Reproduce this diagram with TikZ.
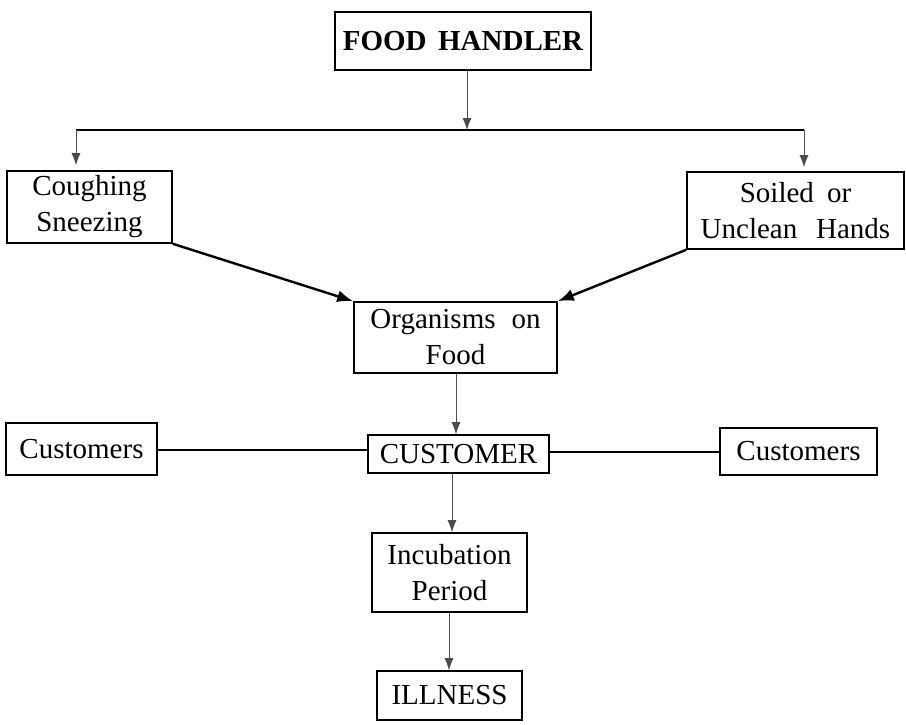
\documentclass[tikz,border=0pt]{standalone}
\usepackage{fontspec}
\setmainfont{Liberation Serif}
\usetikzlibrary{arrows.meta}
\begin{document}
\begin{tikzpicture}[x=1pt,y=-1pt,
  box/.style={draw,line width=1.6pt,inner sep=0pt,align=center,
    font=\fontsize{29}{36}\selectfont},
  thinarrow/.style={draw=black!70,line width=0.8pt,-{Latex[length=12pt,width=9pt]}},
  thickline/.style={line width=2pt},
  thickarrow/.style={line width=2.4pt,-{Latex[length=16pt,width=12pt]}}]
\useasboundingbox (0,0) rectangle (906,724);
\node[box,minimum width=256pt,minimum height=58pt,font=\fontsize{29}{34}\selectfont\bfseries] (fh) at (463,41) {FOOD\hspace{0.15em} HANDLER};
\node[box,minimum width=165pt,minimum height=72pt] (cough) at (89.5,207) {Coughing\\Sneezing};
\node[box,minimum width=217pt,minimum height=77pt] (soiled) at (795.5,210.5) {Soiled\hspace{0.2em} or\\Unclean\hspace{0.4em} Hands};
\node[box,minimum width=203pt,minimum height=71pt] (org) at (455.5,337.5) {Organisms\hspace{0.3em} on\\Food};
\node[box,minimum width=181pt,minimum height=38pt] (cust) at (458.5,454) {CUSTOMER};
\node[box,minimum width=151pt,minimum height=52pt] (lc) at (81.5,449) {Customers};
\node[box,minimum width=157pt,minimum height=47pt] (rc) at (798.5,451.5) {Customers};
\node[box,minimum width=155pt,minimum height=79pt] (inc) at (449.5,572.5) {Incubation\\Period};
\node[box,minimum width=145pt,minimum height=49pt] (ill) at (449.5,695.5) {ILLNESS};
\coordinate (bar) at (467,130);
\coordinate (bl) at (76,130);
\coordinate (br) at (804,130);
\draw[thinarrow] (fh.south -| bar) -- (bar);
\draw[thickline] (bl) -- (br);
\draw[thinarrow,shorten >=5pt] (bl) -- (cough.north -| bl);
\draw[thinarrow,shorten >=4pt] (br) -- (soiled.north -| br);
\draw[thickarrow] (cough.south east) -- (org.north west);
\draw[thickarrow] (soiled.south west) -- (org.north east);
\coordinate (c1) at (456,0);
\draw[thinarrow] (org.south -| c1) -- (cust.north -| c1);
\coordinate (c2) at (452,0);
\draw[thinarrow] (cust.south -| c2) -- (inc.north -| c2);
\coordinate (c3) at (449,0);
\draw[thinarrow] (inc.south -| c3) -- (ill.north -| c3);
\draw[thickline] (lc.east |- 0,450) -- (cust.west |- 0,450);
\draw[thickline] (cust.east |- 0,452) -- (rc.west |- 0,452);
\end{tikzpicture}
\end{document}
